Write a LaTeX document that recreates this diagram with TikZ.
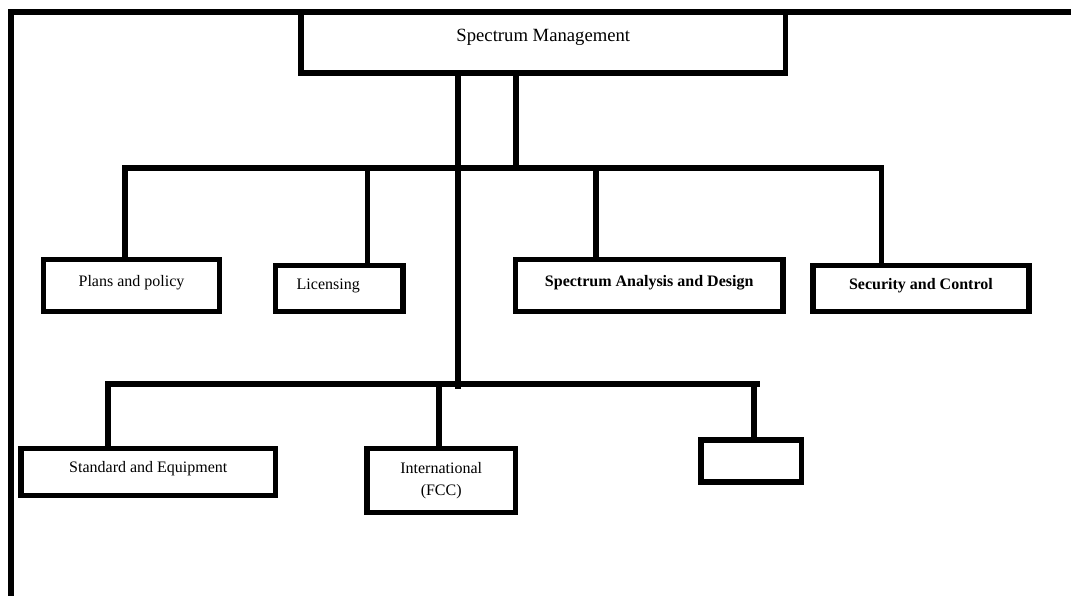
\documentclass[tikz,border=0pt]{standalone}
\usepackage{fontspec}
\setmainfont{Liberation Serif}
\usepackage{tikz}

\tikzset{
	dept/.style={draw,rectangle,inner sep=0pt,align=center,
		font=\fontsize{12}{17}\selectfont},
	line1/.style={dept,text depth=7pt},
	head/.style={dept,text depth=10.5pt,font=\fontsize{14}{17}\selectfont}
}

\begin{document}
\begin{tikzpicture}[x=0.75pt,y=-0.75pt,line width=4.2pt,line cap=rect]
		\useasboundingbox (0,0) rectangle (1071,596);

		% outer frame
		\draw (1071,12) -- (11,12) -- (11,596);

		\node[head,minimum width=363.3pt,minimum height=46pt] (sm) at (543.3,42.5) {Spectrum Management};

		\node[line1,minimum width=132pt,minimum height=39pt] (plans) at (131.5,285.5) {Plans and policy};
		\node[line1,minimum width=95.8pt,minimum height=34.5pt,text width=63.9pt,align=left] (lic) at (339.3,288.5) {Licensing};
		\node[line1,minimum width=200.6pt,minimum height=39pt,font=\fontsize{12}{17}\selectfont\bfseries] (sad) at (649.2,285.5) {Spectrum Analysis and Design};
		\node[line1,minimum width=162.1pt,minimum height=34.5pt,font=\fontsize{12}{17}\selectfont\bfseries] (sec) at (920.9,288.5) {Security and Control};

		\node[line1,minimum width=190.8pt,minimum height=35.2pt] (std) at (148.3,472) {Standard and Equipment};
		\node[dept,minimum width=111.5pt,minimum height=48pt] (intl) at (441.2,480.5) {International\\(FCC)};
		\node[dept,minimum width=75.3pt,minimum height=31.4pt] (blank) at (751.3,461) {};

		% upper branch
		\coordinate (upj) at (516,168);
		\draw (sm.south -| upj) -- (upj);
		\draw (125,168) coordinate (upl) -- (881.5,168) coordinate (upr);
		\foreach \n/\x in {plans/125, lic/367.5, sad/596, sec/881.5}
			\draw (\x,168) coordinate (up-\n) -- (up-\n |- \n.north);

		% lower branch
		\coordinate (lowj) at (458,386);
		\draw (sm.south -| lowj) -- (lowj);
		\draw (108,384) coordinate (lowl) -- (757,384) coordinate (lowr);
		\foreach \n/\x in {std/108, intl/439, blank/754}
			\draw (\x,384) coordinate (low-\n) -- (low-\n |- \n.north);
	\end{tikzpicture}
\end{document}
